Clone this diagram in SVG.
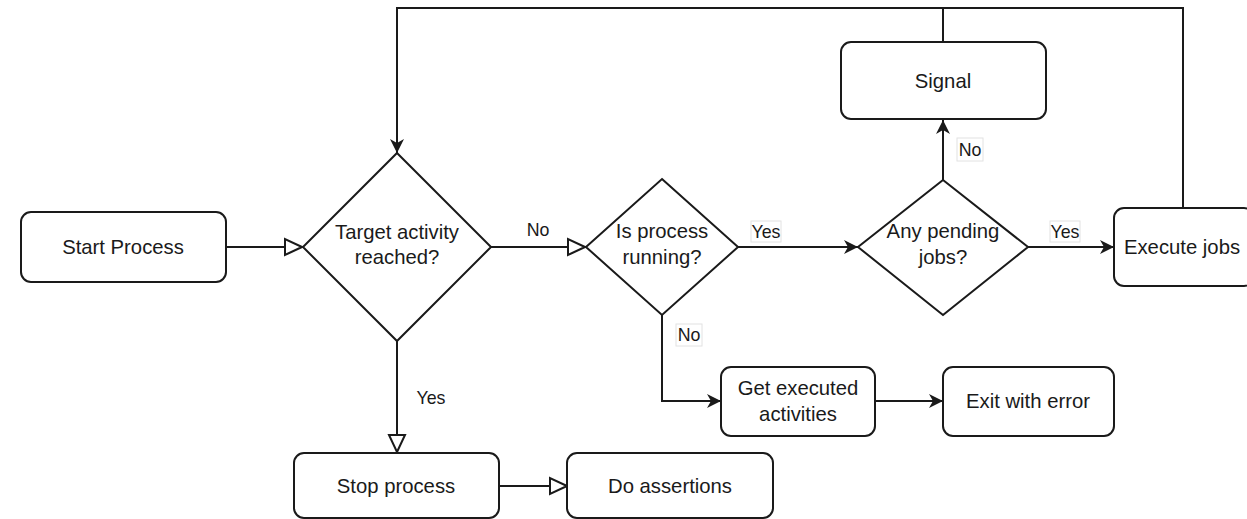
<svg xmlns="http://www.w3.org/2000/svg" width="1247" height="519" viewBox="0 0 1247 519">
<style>
.box{fill:#fff;stroke:#1a1a1a;stroke-width:2}
.t{font-family:"Liberation Sans",Arial,sans-serif;font-size:20.3px;fill:#1a1a1a;text-anchor:middle;dominant-baseline:central}
.lbl{font-family:"Liberation Sans",Arial,sans-serif;font-size:17.8px;fill:#1a1a1a;text-anchor:middle;dominant-baseline:central}
.lb{fill:#fff;stroke:#e2e2e2;stroke-width:1}
.c{fill:none;stroke:#1a1a1a;stroke-width:2}
.f{marker-end:url(#arr)}
.o{marker-end:url(#open)}
</style>
<defs>
<marker id="arr" viewBox="-15 -8 17 16" refX="0" refY="0" markerWidth="17" markerHeight="16" orient="auto" markerUnits="userSpaceOnUse"><path d="M0,0 L-14,-7 L-10,0 L-14,7 Z" fill="#1a1a1a"/></marker>
<marker id="open" viewBox="-19 -10 21 20" refX="0" refY="0" markerWidth="21" markerHeight="20" orient="auto" markerUnits="userSpaceOnUse"><path d="M0,0 L-17,-8 L-17,8 Z" fill="#fff" stroke="#1a1a1a" stroke-width="2" stroke-linejoin="miter"/></marker>
</defs>
<rect width="1247" height="519" fill="#fff"/>
<g id="connectors">
<path class="c o" d="M226,247 H302"/>
<path class="c o" d="M491,247 H585"/>
<path class="c f" d="M738,247 H858"/>
<path class="c f" d="M1028,247 H1114"/>
<path class="c f" d="M943,180 V120"/>
<path class="c f" d="M943,42 V8 H397 V153"/>
<path class="c" d="M1183,208 V8 H943"/>
<path class="c f" d="M662,315 V401 H721"/>
<path class="c f" d="M875,401 H943"/>
<path class="c o" d="M397,341 V452"/>
<path class="c o" d="M499,486 H567"/>
<text class="lbl" x="538" y="230">No</text>
<rect class="lb" x="751" y="221" width="30" height="21"/>
<text class="lbl" x="766" y="231.5">Yes</text>
<rect class="lb" x="1050" y="221" width="30" height="21"/>
<text class="lbl" x="1065" y="231.5">Yes</text>
<rect class="lb" x="957" y="138" width="26" height="23"/>
<text class="lbl" x="970" y="149.5">No</text>
<rect class="lb" x="676" y="324" width="26" height="22"/>
<text class="lbl" x="689" y="334.5">No</text>
<text class="lbl" x="431" y="398">Yes</text>
</g>
<g id="start">
<rect class="box" x="21" y="212" width="205" height="70" rx="10"/>
<text class="t" x="123" y="247">Start Process</text>
</g>
<g id="target">
<path class="box" d="M397,153 L491,247 L397,341 L303,247 Z"/>
<text class="t" x="397" y="232">Target activity</text>
<text class="t" x="397" y="257">reached?</text>
</g>
<g id="running">
<path class="box" d="M662,179 L738,247 L662,315 L586,247 Z"/>
<text class="t" x="662" y="231">Is process</text>
<text class="t" x="662" y="257">running?</text>
</g>
<g id="pending">
<path class="box" d="M943,180 L1028,247 L943,315 L858,247 Z"/>
<text class="t" x="943" y="231">Any pending</text>
<text class="t" x="943" y="257">jobs?</text>
</g>
<g id="signal">
<rect class="box" x="841" y="42" width="205" height="77" rx="10"/>
<text class="t" x="943" y="81">Signal</text>
</g>
<g id="execute">
<rect class="box" x="1114" y="208" width="140" height="78" rx="10"/>
<text class="t" x="1182" y="247">Execute jobs</text>
</g>
<g id="getexec">
<rect class="box" x="721" y="367" width="154" height="69" rx="10"/>
<text class="t" x="798" y="388">Get executed</text>
<text class="t" x="798" y="414">activities</text>
</g>
<g id="exit">
<rect class="box" x="943" y="367" width="171" height="69" rx="10"/>
<text class="t" x="1028" y="401">Exit with error</text>
</g>
<g id="stop">
<rect class="box" x="294" y="453" width="205" height="65" rx="10"/>
<text class="t" x="396" y="486">Stop process</text>
</g>
<g id="assert">
<rect class="box" x="567" y="453" width="206" height="65" rx="10"/>
<text class="t" x="670" y="486">Do assertions</text>
</g>
</svg>
